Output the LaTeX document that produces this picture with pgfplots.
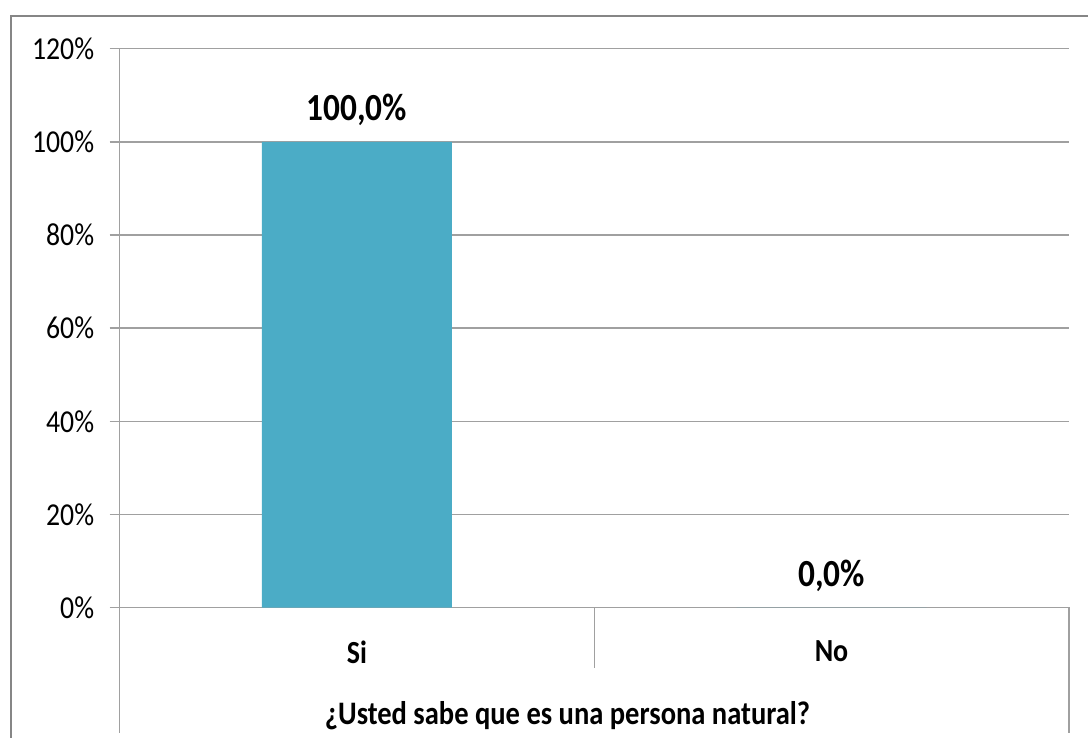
\documentclass[border=0pt]{standalone}
\usepackage{graphicx}
\usepackage{pgfplots}
\pgfplotsset{compat=1.18}
\usepackage{fontspec}
\setmainfont{Carlito}
\definecolor{barblue}{HTML}{4BACC6}
\definecolor{gridgray}{HTML}{A0A0A0}
\definecolor{framegray}{HTML}{868686}
\newcommand{\tickfont}{\fontsize{20.8}{24}\selectfont}
\newcommand{\labfont}{\fontsize{21}{25}\selectfont\bfseries}
\newcommand{\titlefont}{\fontsize{21.4}{25}\selectfont\bfseries}
\newcommand{\valfont}{\fontsize{25}{30}\selectfont\bfseries}
% the reference text is slightly stretched vertically
\newcommand{\tall}[1]{\scalebox{1}[1.15]{#1}}

\begin{document}
\begin{tikzpicture}
\begin{axis}[
  at={(0,0)}, anchor=south west,
  scale only axis, width=712pt, height=419pt,
  xmin=-0.5, xmax=1.5, ymin=0, ymax=120,
  axis x line=bottom, axis y line=left,
  axis line style={-, draw=gridgray, line width=1pt},
  ybar, bar width=142.5pt,
  xtick={0,1}, xticklabels={\tall{Si},\tall{No}},
  major x tick style={draw=none},
  xticklabel style={font=\labfont, yshift=-14pt},
  ytick={0,20,...,120},
  yticklabel={\tall{\pgfmathprintnumber{\tick}\%}},
  yticklabel style={font=\tickfont, xshift=-8pt},
  /pgf/number format/assume math mode=true,
  tick align=outside, major tick length=7.5pt,
  major y tick style={draw=gridgray, line width=1pt},
  ymajorgrids, major grid style={draw=gridgray, line width=1pt},
  nodes near coords={\tall{\pgfmathprintnumber[fixed,fixed zerofill,precision=1,use comma]{\pgfplotspointmeta}\%}},
  every node near coord/.append style={font=\valfont, text=black, anchor=south, yshift=12pt, inner sep=0pt},
  clip=false,
]
\addplot[fill=barblue, draw=none] coordinates {(0,100) (1,0)};
\end{axis}
% decorations in image pixels (X right, Y down); plot origin is pixel (119.5,607.5)
\begin{scope}[xshift=-89.625pt, yshift=455.625pt, x=0.75pt, y=-0.75pt]
  \path[use as bounding box] (0,0) rectangle (1088,738);
  \draw[framegray, line width=1.6pt] (11,738) -- (11,16) -- (1088,16);
  \draw[gridgray, line width=1pt] (119.5,607.5) -- (119.5,733);
  \draw[gridgray, line width=1pt] (594.2,607.5) -- (594.2,668);
  \draw[gridgray, line width=1pt] (1069,607.5) -- (1069,733);
  \node[font=\titlefont] at (567.5,716) {\tall{¿Usted sabe que es una persona natural?}};
\end{scope}
\end{tikzpicture}
\end{document}
